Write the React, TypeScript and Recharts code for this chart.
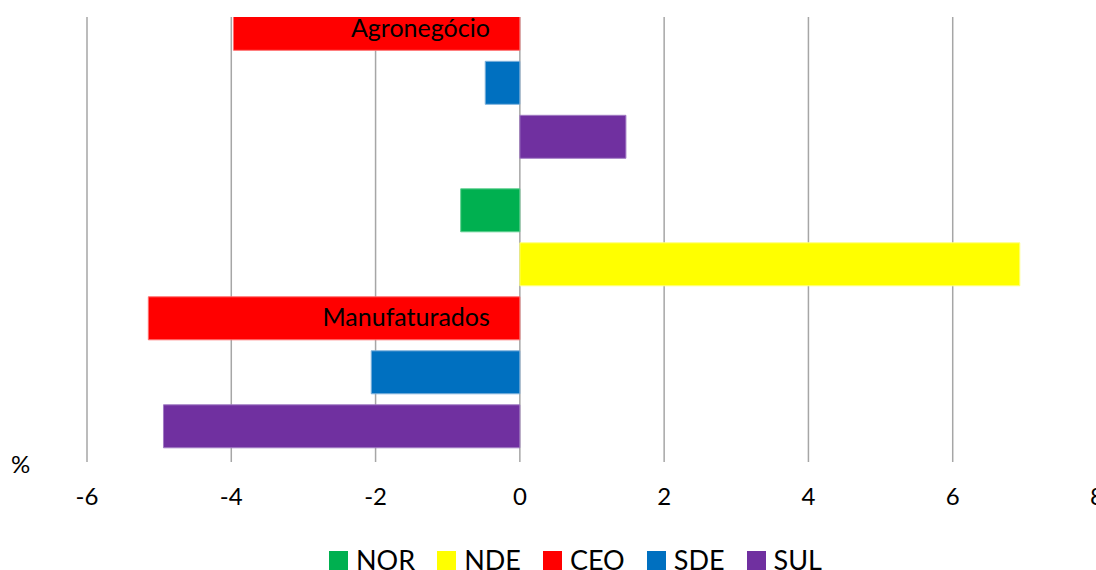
import React from 'react'
import { BarChart, Bar, XAxis, YAxis, CartesianGrid, Legend } from 'recharts'

const categories = ['Agronegócio', 'Manufaturados']
const nor = [1.2, -0.82]
const nde = [2.1, 6.93]
const ceo = [-3.97, -5.15]
const sde = [-0.48, -2.06]
const sul = [1.47, -4.94]
const xTicks = [-6, -4, -2, 0, 2, 4, 6, 8]

const series = [
  { key: 'NOR', values: nor, color: '#00b050', edge: '#5fd08f' },
  { key: 'NDE', values: nde, color: '#ffff00', edge: '#ffff80' },
  { key: 'CEO', values: ceo, color: '#ff0000', edge: '#ff7070' },
  { key: 'SDE', values: sde, color: '#0070c0', edge: '#7fb2dc' },
  { key: 'SUL', values: sul, color: '#7030a0', edge: '#a27cc4' },
]

const chartData = categories.map((name, i) => {
  const row: any = { name }
  series.forEach(s => {
    row[s.key] = s.values[i]
  })
  return row
})

// chart geometry (the top of the plot is cut off like in the original)
const CHART_W = 1110
const MARGIN = { top: 0, right: 13, left: 0, bottom: 60 }
const Y_AXIS_W = 87
const X_AXIS_H = 40
const PLOT_H = 579
const CHART_H = PLOT_H + X_AXIS_H + MARGIN.top + MARGIN.bottom
const PLOT_LEFT = MARGIN.left + Y_AXIS_W
const PLOT_W = CHART_W - PLOT_LEFT - MARGIN.right
const X_MIN = xTicks[0]
const X_MAX = xTicks[xTicks.length - 1]
const FONT = 'Lato, sans-serif'

const CategoryTick = (props: any) => {
  const { y, payload } = props
  const zeroX = PLOT_LEFT + ((0 - X_MIN) / (X_MAX - X_MIN)) * PLOT_W
  return (
    <text x={zeroX - 30} y={y} dy="0.36em" textAnchor="end" fill="#000" fontSize={25} fontFamily={FONT}>
      {payload.value}
    </text>
  )
}

// legend keeps the series order (NOR, NDE, CEO, SDE, SUL)
const renderLegend = () => (
  <div style={{ display: 'flex', alignItems: 'center', height: 30, paddingLeft: 329, fontFamily: FONT }}>
    {series.map(s => (
      <div key={s.key} style={{ display: 'flex', alignItems: 'center', marginRight: 22 }}>
        <div style={{ width: 19, height: 19, background: s.color, marginRight: 8 }} />
        <span style={{ fontSize: 27, color: '#000', lineHeight: '30px' }}>{s.key}</span>
      </div>
    ))}
  </div>
)

export default function App() {
  return (
    <div style={{ position: 'absolute', left: 0, top: 0, width: 1096, height: 570, background: '#fff', overflow: 'hidden' }}>
      <div style={{ position: 'absolute', left: 0, top: 17, width: 1096, height: 553, overflow: 'hidden' }}>
        <div style={{ position: 'absolute', left: 0, top: -134 }}>
          <BarChart
            width={CHART_W}
            height={CHART_H}
            data={chartData}
            layout="vertical"
            margin={MARGIN}
            barCategoryGap={16.3}
            barGap={11}
          >
            <CartesianGrid horizontal={false} stroke="#a6a6a6" strokeWidth={1.5} />
            <XAxis
              type="number"
              domain={[X_MIN, X_MAX]}
              ticks={xTicks}
              axisLine={false}
              tickLine={false}
              tickSize={0}
              tickMargin={26}
              height={X_AXIS_H}
              tick={{ fill: '#000', fontSize: 24, fontFamily: FONT }}
              interval={0}
            />
            <YAxis
              type="category"
              dataKey="name"
              width={Y_AXIS_W}
              axisLine={false}
              tickLine={false}
              tick={<CategoryTick />}
            />
            {series.map(s => (
              <Bar key={s.key} dataKey={s.key} fill={s.color} stroke={s.edge} strokeWidth={1} isAnimationActive={false} />
            ))}
            <Legend
              layout="horizontal"
              verticalAlign="middle"
              align="center"
              content={renderLegend}
              wrapperStyle={{ top: 662, left: 0, width: CHART_W }}
            />
          </BarChart>
        </div>
      </div>
      <div style={{ position: 'absolute', left: 11, top: 452, fontFamily: FONT, fontSize: 24, lineHeight: '24px', color: '#000' }}>%</div>
    </div>
  )
}
